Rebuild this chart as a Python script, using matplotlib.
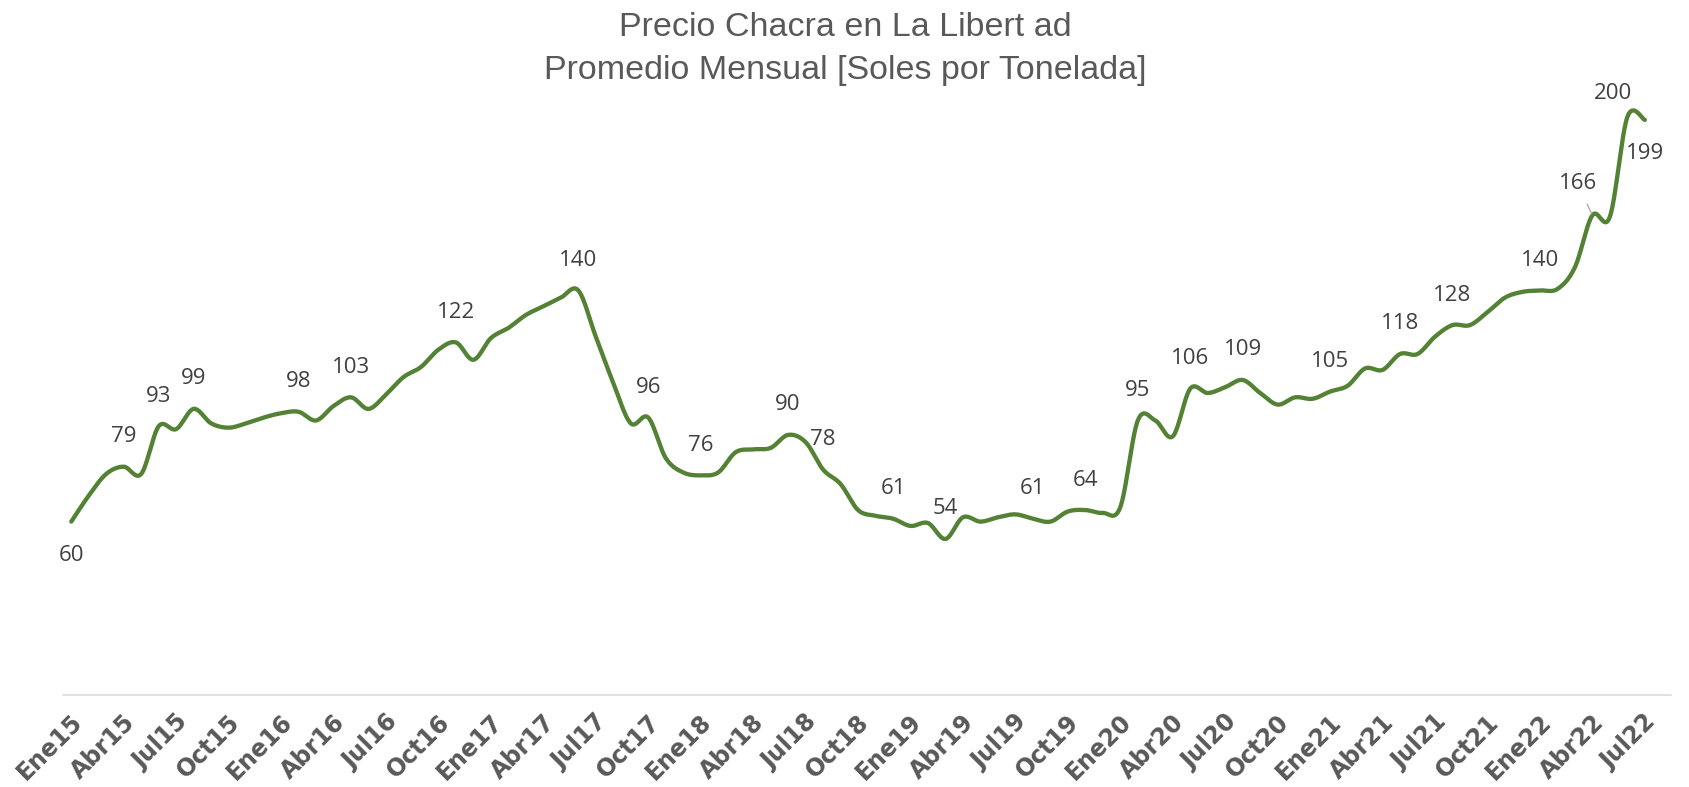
import numpy as np
import matplotlib
matplotlib.use("Agg")
import matplotlib.pyplot as plt
import matplotlib.transforms as mtransforms
from matplotlib import font_manager

# Categorias mensuales Ene15 .. Ago22 (la ultima sin dato)
meses = ["Ene", "Feb", "Mar", "Abr", "May", "Jun", "Jul", "Ago", "Sep", "Oct", "Nov", "Dic"]
anios = ["15", "16", "17", "18", "19", "20", "21", "22"]
categorias = [m + a for a in anios for m in meses][:92]

# Precio chacra promedio mensual (soles por tonelada), Ene15 .. Jul22
precio = [
    60, 69, 76.5, 79, 76.5, 93, 92, 99, 94, 92.5, 94, 96,
    97.5, 98, 95, 100, 103, 99, 104, 110, 113.5, 119.5, 122, 116,
    123.5, 127, 131.5, 134.5, 137.5, 140, 124, 108, 94, 96, 82, 77,
    76, 77, 84, 85, 85.5, 90, 87.5, 78, 73, 64, 62, 61,
    58.5, 59.5, 54, 61.5, 60, 61.5, 62.5, 61, 60, 63.5, 64, 63,
    65, 95, 95, 89.5, 106, 104.5, 106.5, 109, 104.5, 100.5, 103, 102.5,
    105, 107, 113, 112.5, 118, 118, 124, 128, 128, 132.5, 137.5, 139.5,
    140, 140.5, 148, 166, 165.5, 200, 199,
]

# puntos con etiqueta de dato
etiquetas = [0, 3, 5, 7, 13, 16, 22, 29, 33, 36, 41, 43, 47, 50, 55, 58,
             61, 64, 67, 72, 76, 79, 84, 87, 89, 90]

VERDE = "#548235"
GRIS_TXT = "#595959"
GRIS_LBL = "#404040"

names = {f.name for f in font_manager.fontManager.ttflist}
if "Liberation Sans Narrow" in names:
    title_font, title_size = "Liberation Sans Narrow", 28
else:
    title_font, title_size = "Liberation Sans", 24.5
label_font = "Open Sans" if "Open Sans" in names else "DejaVu Sans"


def suavizar(x, y, n=24):
    # curva tipo Excel (Bezier / Catmull-Rom) que pasa por los puntos
    x = np.asarray(x, float)
    y = np.asarray(y, float)
    px = np.concatenate([[x[0]], x, [x[-1]]])
    py = np.concatenate([[y[0]], y, [y[-1]]])
    xs, ys = [], []
    t = np.linspace(0, 1, n, endpoint=False)
    for i in range(1, len(px) - 2):
        p0 = np.array([px[i], py[i]])
        p3 = np.array([px[i + 1], py[i + 1]])
        c1 = p0 + (p3 - np.array([px[i - 1], py[i - 1]])) / 6.0
        c2 = p3 - (np.array([px[i + 2], py[i + 2]]) - p0) / 6.0
        b = ((1 - t) ** 3)[:, None] * p0 + (3 * (1 - t) ** 2 * t)[:, None] * c1 \
            + (3 * (1 - t) * t ** 2)[:, None] * c2 + (t ** 3)[:, None] * p3
        xs.append(b[:, 0])
        ys.append(b[:, 1])
    xs.append([x[-1]])
    ys.append([y[-1]])
    return np.concatenate(xs), np.concatenate(ys)


fig = plt.figure(figsize=(16.9, 7.87), dpi=100)
ax = fig.add_axes([0.037, 0.1169, 0.9518, 0.8813])

idx = np.arange(len(precio))
sx, sy = suavizar(idx, precio)
ax.plot(sx, sy, color=VERDE, lw=3.1, solid_capstyle="round", solid_joinstyle="round")

ax.set_xlim(-0.5, len(categorias) - 0.5)
ax.set_ylim(0, 240)

for i in etiquetas:
    v = precio[i]
    txt = f"{v:.0f}"
    kw = dict(xycoords="data", textcoords="offset points", ha="center", va="center",
              fontsize=16, color=GRIS_LBL, family=label_font)
    if i in (0, 90):
        ax.annotate(txt, (i, v), xytext=(0, -24.5), **kw)
    elif i == 87:
        ax.annotate(txt, (i, v), xytext=(-10, 23), **kw,
                    arrowprops=dict(arrowstyle="-", color="#a6a6a6", lw=0.9,
                                    relpos=(0.6, 0), shrinkA=6, shrinkB=1))
    elif i == 89:
        ax.annotate(txt, (i, v), xytext=(-10, 17), **kw)
    else:
        ax.annotate(txt, (i, v), xytext=(0, 21.6), **kw)

# etiquetas del eje x (cada 3 meses), rotadas 45 grados
ticks = list(range(0, len(categorias), 3))
ax.set_xticks([])
ax.set_yticks([])
trans = mtransforms.blended_transform_factory(ax.transData, ax.transAxes) + \
    mtransforms.ScaledTranslation(16 / 100, -15 / 100, fig.dpi_scale_trans)
for t in ticks:
    ax.text(t, 0, categorias[t], transform=trans, rotation=45, ha="right", va="top",
            fontsize=17, fontweight="bold", color=GRIS_TXT, family="DejaVu Sans",
            clip_on=False)

for s in ("top", "right", "left"):
    ax.spines[s].set_visible(False)
ax.spines["bottom"].set_color("#d9d9d9")
ax.spines["bottom"].set_linewidth(1.1)

fig.text(0.5, 1 - 27 / 787, "Precio Chacra en La Libert ad", ha="center", va="center",
         fontsize=title_size, color=GRIS_TXT, family=title_font)
fig.text(0.5, 1 - 70 / 787, "Promedio Mensual [Soles por Tonelada]", ha="center", va="center",
         fontsize=title_size, color=GRIS_TXT, family=title_font)

fig.savefig("out.png", dpi=100, facecolor="white")
